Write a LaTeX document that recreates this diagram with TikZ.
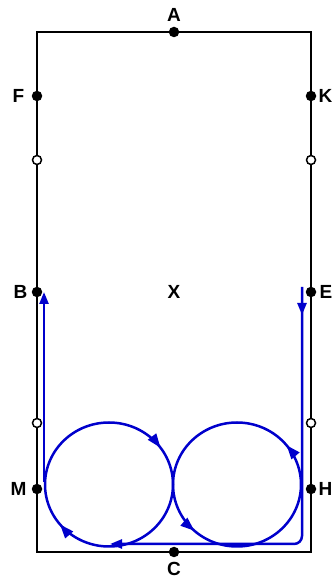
\documentclass[tikz,border=0pt]{standalone}
\usepackage{fontspec}
\setmainfont{Liberation Sans}
\usetikzlibrary{arrows.meta,positioning,decorations.markings}
\definecolor{trackblue}{RGB}{0,0,204}

\begin{document}
\begin{tikzpicture}[x=1pt, y=1pt, >=Triangle, font=\bfseries\fontsize{19}{19}\selectfont,
  dot/.style={circle, fill=black, inner sep=0pt, minimum size=10.5pt},
  hollow/.style={circle, draw=black, fill=white, line width=1.5pt, inner sep=0pt, minimum size=9pt},
  letter/.style={inner sep=0pt},
  track/.style={draw=trackblue, line width=2.5pt},
  tip/.style={-{Triangle[length=12pt, width=9pt]}, trackblue},
  cw/.style 2 args={postaction={decorate}, decoration={markings,
    mark=at position #1 with {\arrowreversed[trackblue]{Triangle[length=14pt, width=10pt]}},
    mark=at position #2 with {\arrowreversed[trackblue]{Triangle[length=14pt, width=10pt]}}}},
  ccw/.style 2 args={postaction={decorate}, decoration={markings,
    mark=at position #1 with {\arrow[trackblue]{Triangle[length=14pt, width=10pt]}},
    mark=at position #2 with {\arrow[trackblue]{Triangle[length=14pt, width=10pt]}}}}]
\useasboundingbox (0,0) rectangle (336,581);
% arena
\draw[line width=1.5pt] (37,29) rectangle (311,549);
\node[dot] (A) at (174,549) {};
\node[dot] (C) at (174,29) {};
\node[dot] (F) at (37,485) {};
\node[dot] (K) at (311,485) {};
\node[dot] (B) at (37,289) {};
\node[dot] (E) at (311,289) {};
\node[dot] (M) at (37,92) {};
\node[dot] (H) at (311,92) {};
\node[hollow] (q1) at (37,421) {};
\node[hollow] (q2) at (311,421) {};
\node[hollow] (q3) at (37,158) {};
\node[hollow] (q4) at (311,158) {};
% letters
\node[letter, above=5pt of A] (lA) {A};
\node[letter, below=5pt of C] (lC) {C};
\node[letter, left=7pt of F] (lF) {F};
\node[letter, right=2pt of K] (lK) {K};
\node[letter, left=4pt of B] (lB) {B};
\node[letter, right=3pt of E] (lE) {E};
\node[letter, left=5pt of M] (lM) {M};
\node[letter, right=2pt of H] (lH) {H};
\node (X) at (174,289) {X};
% figure of eight
\coordinate (lc) at (109,96.5);
\coordinate (rc) at (237,96.5);
\coordinate (eIn) at (302,294);
\coordinate (eCorner) at (302,37);
\coordinate (cJoin) at (110,37);
\coordinate (mOut) at (44,99);
\coordinate (bOut) at (44,289);
\draw[track, rounded corners=8pt, tip, postaction={decorate}, decoration={markings,
  mark=at position 28pt with {\arrow[trackblue]{Triangle[length=12pt, width=9pt]}}}]
  (eIn) -- (eCorner) -- (cJoin);
\draw[track, cw={0.1}{0.61}] (lc) ellipse [x radius=64, y radius=62];
\draw[track, ccw={0.108}{0.633}] (rc) ellipse [x radius=64, y radius=62];
\draw[track, tip] (mOut) -- (bOut);
\end{tikzpicture}
\end{document}
